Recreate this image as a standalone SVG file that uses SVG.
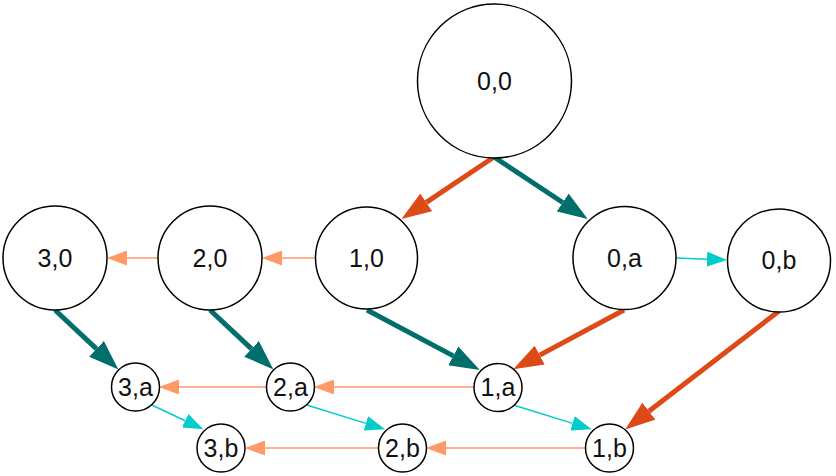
<svg xmlns="http://www.w3.org/2000/svg" width="836" height="476" viewBox="0 0 836 476">
<style>
.n circle{fill:#fff;stroke:#000;stroke-width:1.5}
.n text{font-family:"Liberation Sans",Arial,sans-serif;font-size:25px;fill:#111;text-anchor:middle}
.thick{stroke-width:5;fill:none}
.thin{stroke-width:1.5;fill:none}
.teal{stroke:#006e6b}
.red{stroke:#de4a17}
.sal{stroke:#ff9966}
.cy{stroke:#00cccc}
</style>
<defs>
<marker id="aTeal" markerUnits="userSpaceOnUse" markerWidth="30" markerHeight="22" refX="0" refY="10" orient="auto" viewBox="0 0 28 20"><path d="M0,0 L28,10 L0,20 Z" fill="#006e6b"/></marker>
<marker id="aRed" markerUnits="userSpaceOnUse" markerWidth="30" markerHeight="22" refX="0" refY="10" orient="auto" viewBox="0 0 28 20"><path d="M0,0 L28,10 L0,20 Z" fill="#de4a17"/></marker>
<marker id="aSal" markerUnits="userSpaceOnUse" markerWidth="20" markerHeight="15" refX="0" refY="7.5" orient="auto" viewBox="0 0 20 15"><path d="M0,0 L20,7.5 L0,15 Z" fill="#ff9966"/></marker>
<marker id="aCy" markerUnits="userSpaceOnUse" markerWidth="20" markerHeight="15" refX="0" refY="7.5" orient="auto" viewBox="0 0 20 15"><path d="M0,0 L20,7.5 L0,15 Z" fill="#00cccc"/></marker>
</defs>
<g id="connectors">
<line class="thick red" x1="494" y1="157" x2="426.3" y2="202.4" marker-end="url(#aRed)"/>
<line class="thick teal" x1="494" y1="157" x2="562.7" y2="202.5" marker-end="url(#aTeal)"/>
<line class="thin sal" x1="316" y1="258" x2="282" y2="258" marker-end="url(#aSal)"/>
<line class="thin sal" x1="158" y1="258" x2="127" y2="258" marker-end="url(#aSal)"/>
<line class="thin cy" x1="676" y1="258" x2="707" y2="259.2" marker-end="url(#aCy)"/>
<line class="thick teal" x1="55" y1="310" x2="96.5" y2="348.9" marker-end="url(#aTeal)"/>
<line class="thick teal" x1="210" y1="310" x2="251.5" y2="348.9" marker-end="url(#aTeal)"/>
<line class="thick teal" x1="367" y1="310" x2="453.3" y2="355.9" marker-end="url(#aTeal)"/>
<line class="thick red" x1="624" y1="310" x2="539.7" y2="355.1" marker-end="url(#aRed)"/>
<line class="thick red" x1="779" y1="311" x2="648.9" y2="411.2" marker-end="url(#aRed)"/>
<line class="thin sal" x1="474" y1="387" x2="334" y2="387" marker-end="url(#aSal)"/>
<line class="thin sal" x1="267" y1="387" x2="179" y2="387" marker-end="url(#aSal)"/>
<line class="thin sal" x1="586" y1="448" x2="446" y2="448" marker-end="url(#aSal)"/>
<line class="thin sal" x1="379" y1="448" x2="265" y2="448" marker-end="url(#aSal)"/>
<line class="thin cy" x1="151.7" y1="405" x2="185.2" y2="420.8" marker-end="url(#aCy)"/>
<line class="thin cy" x1="306.7" y1="405" x2="365.9" y2="423.4" marker-end="url(#aCy)"/>
<line class="thin cy" x1="513.3" y1="405" x2="572.6" y2="423.4" marker-end="url(#aCy)"/>
</g>
<g id="n00" class="n"><circle cx="494.5" cy="81" r="77"/><text x="494.5" y="89.8">0,0</text></g>
<g id="n10" class="n"><circle cx="366.5" cy="258" r="51"/><text x="366.5" y="266.8">1,0</text></g>
<g id="n20" class="n"><circle cx="210" cy="258" r="52"/><text x="210" y="266.8">2,0</text></g>
<g id="n30" class="n"><circle cx="55" cy="258" r="52"/><text x="55" y="266.8">3,0</text></g>
<g id="n0a" class="n"><circle cx="624.5" cy="258" r="51.5"/><text x="624.5" y="266.8">0,a</text></g>
<g id="n0b" class="n"><circle cx="779" cy="260.5" r="51.5"/><text x="779" y="269.3">0,b</text></g>
<g id="n1a" class="n"><circle cx="498" cy="387.5" r="24"/><text x="498" y="396.3">1,a</text></g>
<g id="n2a" class="n"><circle cx="290.5" cy="387" r="24"/><text x="290.5" y="395.8">2,a</text></g>
<g id="n3a" class="n"><circle cx="135.5" cy="387" r="24"/><text x="135.5" y="395.8">3,a</text></g>
<g id="n1b" class="n"><circle cx="609.5" cy="448" r="24"/><text x="609.5" y="456.8">1,b</text></g>
<g id="n2b" class="n"><circle cx="402.5" cy="448" r="24"/><text x="402.5" y="456.8">2,b</text></g>
<g id="n3b" class="n"><circle cx="221" cy="448" r="24"/><text x="221" y="456.8">3,b</text></g>
</svg>
